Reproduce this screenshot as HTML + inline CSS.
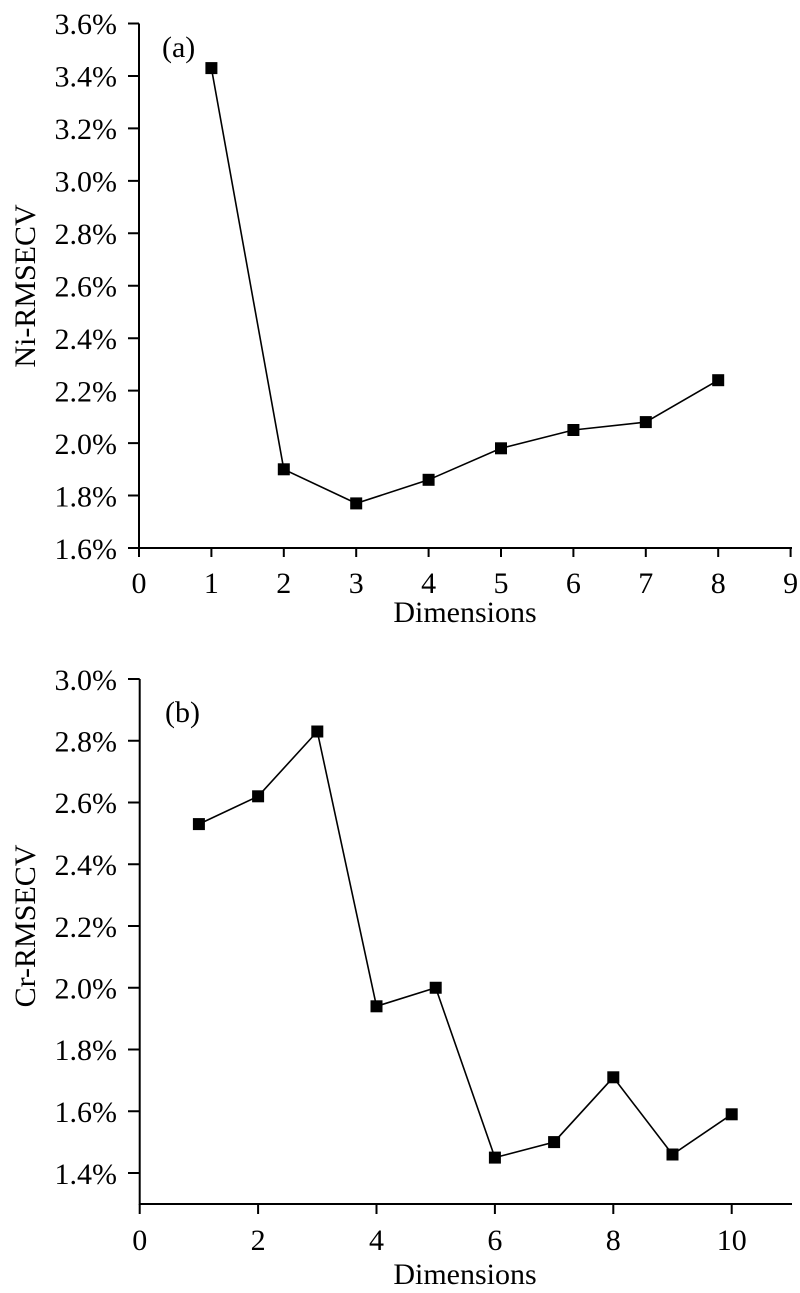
<!DOCTYPE html>
<html><head><meta charset="utf-8"><style>html,body{margin:0;padding:0;background:#fff}svg{display:block}text{font-family:"Liberation Serif",serif;fill:#000}</style></head><body>
<svg width="800" height="1293" viewBox="0 0 800 1293" xmlns="http://www.w3.org/2000/svg">
<g stroke="#000" stroke-width="2" fill="none">
<path d="M139 23.5V548H792"/>
<path d="M128 23.5H139M128 75.95H139M128 128.4H139M128 180.85H139M128 233.3H139M128 285.75H139M128 338.2H139M128 390.65H139M128 443.1H139M128 495.55H139M128 548H139"/>
<path d="M139 548v9M211.4 548v9M283.8 548v9M356.2 548v9M428.6 548v9M501 548v9M573.4 548v9M645.8 548v9M718.2 548v9M790.6 548v9"/>
<polyline points="211.4,68.1 283.8,469.3 356.2,503.4 428.6,479.8 501,448.3 573.4,430 645.8,422.1 718.2,380.2" stroke-width="1.6"/>
<path d="M139.7 679V1204H792"/>
<path d="M128 679H139.7M128 740.75H139.7M128 802.5H139.7M128 864.25H139.7M128 926H139.7M128 987.75H139.7M128 1049.5H139.7M128 1111.25H139.7M128 1173H139.7"/>
<path d="M139.7 1204v10M258.1 1204v10M376.5 1204v10M494.9 1204v10M613.3 1204v10M731.7 1204v10"/>
<polyline points="198.9,824.1 258.1,796.3 317.3,731.5 376.5,1006.3 435.7,987.75 494.9,1157.6 554.1,1142.1 613.3,1077.3 672.5,1154.5 731.7,1114.3" stroke-width="1.6"/>
</g>
<g fill="#000">
<rect x="205.4" y="62.1" width="12" height="12"/><rect x="277.8" y="463.3" width="12" height="12"/><rect x="350.2" y="497.4" width="12" height="12"/><rect x="422.6" y="473.8" width="12" height="12"/><rect x="495" y="442.3" width="12" height="12"/><rect x="567.4" y="424" width="12" height="12"/><rect x="639.8" y="416.1" width="12" height="12"/><rect x="712.2" y="374.2" width="12" height="12"/>
<rect x="192.9" y="818.1" width="12" height="12"/><rect x="252.1" y="790.3" width="12" height="12"/><rect x="311.3" y="725.5" width="12" height="12"/><rect x="370.5" y="1000.3" width="12" height="12"/><rect x="429.7" y="981.75" width="12" height="12"/><rect x="488.9" y="1151.6" width="12" height="12"/><rect x="548.1" y="1136.1" width="12" height="12"/><rect x="607.3" y="1071.3" width="12" height="12"/><rect x="666.5" y="1148.5" width="12" height="12"/><rect x="725.7" y="1108.3" width="12" height="12"/>
</g>
<g font-size="30" text-anchor="end">
<text x="117" y="34">3.6%</text><text x="117" y="86.5">3.4%</text><text x="117" y="139">3.2%</text><text x="117" y="191.5">3.0%</text><text x="117" y="244">2.8%</text><text x="117" y="296.5">2.6%</text><text x="117" y="349">2.4%</text><text x="117" y="401.5">2.2%</text><text x="117" y="454">2.0%</text><text x="117" y="506.5">1.8%</text><text x="117" y="559">1.6%</text>
<text x="117" y="690">3.0%</text><text x="117" y="751.5">2.8%</text><text x="117" y="813">2.6%</text><text x="117" y="875">2.4%</text><text x="117" y="937">2.2%</text><text x="117" y="998.5">2.0%</text><text x="117" y="1060">1.8%</text><text x="117" y="1122">1.6%</text><text x="117" y="1184">1.4%</text>
</g>
<g font-size="30" text-anchor="middle">
<text x="139" y="593">0</text><text x="211.4" y="593">1</text><text x="283.8" y="593">2</text><text x="356.2" y="593">3</text><text x="428.6" y="593">4</text><text x="501" y="593">5</text><text x="573.4" y="593">6</text><text x="645.8" y="593">7</text><text x="718.2" y="593">8</text><text x="790.6" y="593">9</text>
<text x="139.7" y="1250">0</text><text x="258.1" y="1250">2</text><text x="376.5" y="1250">4</text><text x="494.9" y="1250">6</text><text x="613.3" y="1250">8</text><text x="731.7" y="1250">10</text>
<text x="465" y="622" font-size="30">Dimensions</text>
<text x="465" y="1284" font-size="30">Dimensions</text>
<text transform="translate(35,286) rotate(-90)" font-size="30">Ni-RMSECV</text>
<text transform="translate(35,926) rotate(-90)" font-size="30">Cr-RMSECV</text>
</g>
<text x="162" y="57" font-size="30">(a)</text>
<text x="165" y="722" font-size="30">(b)</text>
</svg>
</body></html>
